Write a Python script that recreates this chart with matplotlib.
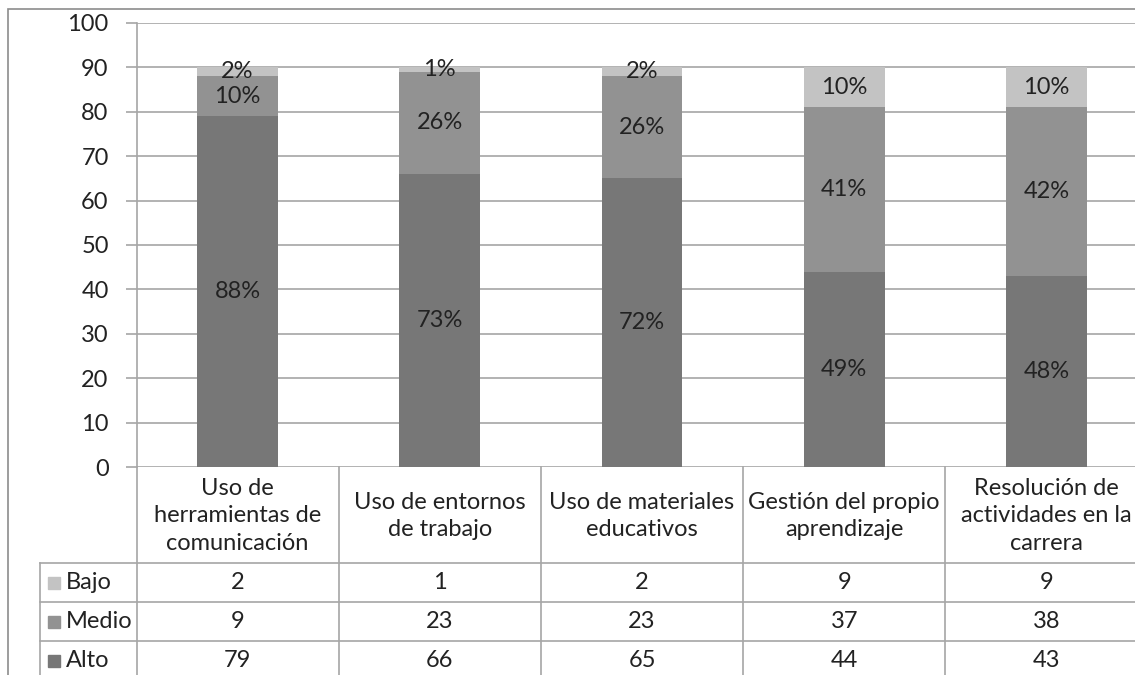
import matplotlib
matplotlib.use("Agg")
import numpy as np
import matplotlib.pyplot as plt
from matplotlib.transforms import blended_transform_factory
from matplotlib.patches import Rectangle

categories = [
    "Uso de\nherramientas de\ncomunicación",
    "Uso de entornos\nde trabajo",
    "Uso de materiales\neducativos",
    "Gestión del propio\naprendizaje",
    "Resolución de\nactividades en la\ncarrera",
]
series_names = ["Bajo", "Medio", "Alto"]
alto = [79, 66, 65, 44, 43]
medio = [9, 23, 23, 37, 38]
bajo = [2, 1, 2, 9, 9]
alto_pct = ["88%", "73%", "72%", "49%", "48%"]
medio_pct = ["10%", "26%", "26%", "41%", "42%"]
bajo_pct = ["2%", "1%", "2%", "10%", "10%"]
yticks = list(range(0, 101, 10))

COLORS = {"Alto": "#777777", "Medio": "#929292", "Bajo": "#c3c3c3"}
LINE = "#a6a6a6"
TXT = "#222222"
W, H = 1135, 675

plt.rcParams["font.family"] = ["Lato", "DejaVu Sans"]
plt.rcParams["font.size"] = 17

fig = plt.figure(figsize=(W / 100, H / 100), dpi=100)

def fx(px):
    return px / W

def fy(py):
    return 1 - py / H

# plot area in pixels: left 136.5, top 23, bottom 467, 202.2 px per category
ax = fig.add_axes([fx(136.5), fy(467), fx(202.2 * 5), fy(23) - fy(467)])
x = np.arange(len(categories))
ax.bar(x, alto, width=0.4, color=COLORS["Alto"], zorder=3)
ax.bar(x, medio, width=0.4, bottom=alto, color=COLORS["Medio"], zorder=3)
top2 = np.array(alto) + np.array(medio)
ax.bar(x, bajo, width=0.4, bottom=top2, color=COLORS["Bajo"], zorder=3)

for i in range(len(categories)):
    ax.text(x[i], alto[i] / 2, alto_pct[i], ha="center", va="center", color=TXT, zorder=4)
    ax.text(x[i], alto[i] + medio[i] / 2, medio_pct[i], ha="center", va="center", color=TXT, zorder=4)
    ax.text(x[i], top2[i] + bajo[i] / 2, bajo_pct[i], ha="center", va="center", color=TXT, zorder=4)

ax.set_xlim(-0.5, len(categories) - 0.5)
ax.set_ylim(0, 100)
ax.set_yticks(yticks)
ax.set_xticks([])
ax.yaxis.grid(True, color=LINE, linewidth=1.2, zorder=0)
ax.tick_params(axis="y", length=8, width=1.2, color=LINE, labelcolor=TXT, pad=12)
for s in ["top", "right", "bottom"]:
    ax.spines[s].set_visible(False)
ax.spines["left"].set_color(LINE)
ax.spines["left"].set_linewidth(1.2)

# data table below the chart
tr = blended_transform_factory(ax.transData, fig.transFigure)
row_lines = [467, 563, 602, 641, 680]
x_left_px = 40
x_left = ax.transData.inverted().transform((x_left_px, 0))[0]
x_right = len(categories) - 0.5

def hline(ypx, x0):
    ax.plot([x0, x_right + 0.3], [fy(ypx), fy(ypx)], transform=tr, color=LINE,
            linewidth=1.2, clip_on=False)

def vline(xd, y0, y1):
    ax.plot([xd, xd], [fy(y0), fy(y1)], transform=tr, color=LINE,
            linewidth=1.2, clip_on=False)

for ypx in row_lines[1:4]:
    hline(ypx, x_left)
for k in range(len(categories) + 1):
    vline(k - 0.5, 467, 680)
vline(x_left, 563, 680)

for i, c in enumerate(categories):
    ax.text(i, fy((467 + 563) / 2 + 1), c, transform=tr, ha="center", va="center",
            color=TXT, linespacing=1.4, clip_on=False)

table_rows = [("Bajo", bajo), ("Medio", medio), ("Alto", alto)]
for r, (name, vals) in enumerate(table_rows):
    ymid = (row_lines[r + 1] + row_lines[r + 2]) / 2
    for i, v in enumerate(vals):
        ax.text(i, fy(ymid), str(v), transform=tr, ha="center", va="center",
                color=TXT, clip_on=False)
    fig.patches.append(Rectangle((fx(48), fy(ymid + 6)), fx(12), fy(0) - fy(12),
                                 transform=fig.transFigure, color=COLORS[name]))
    fig.text(fx(66), fy(ymid), name, ha="left", va="center", color=TXT)

# outer chart border
fig.patches.append(Rectangle((fx(8), fy(700)), fx(1200), fy(9) - fy(700),
                             transform=fig.transFigure, fill=False,
                             edgecolor="#8c8c8c", linewidth=1.2))

fig.savefig("out.png", dpi=100)
